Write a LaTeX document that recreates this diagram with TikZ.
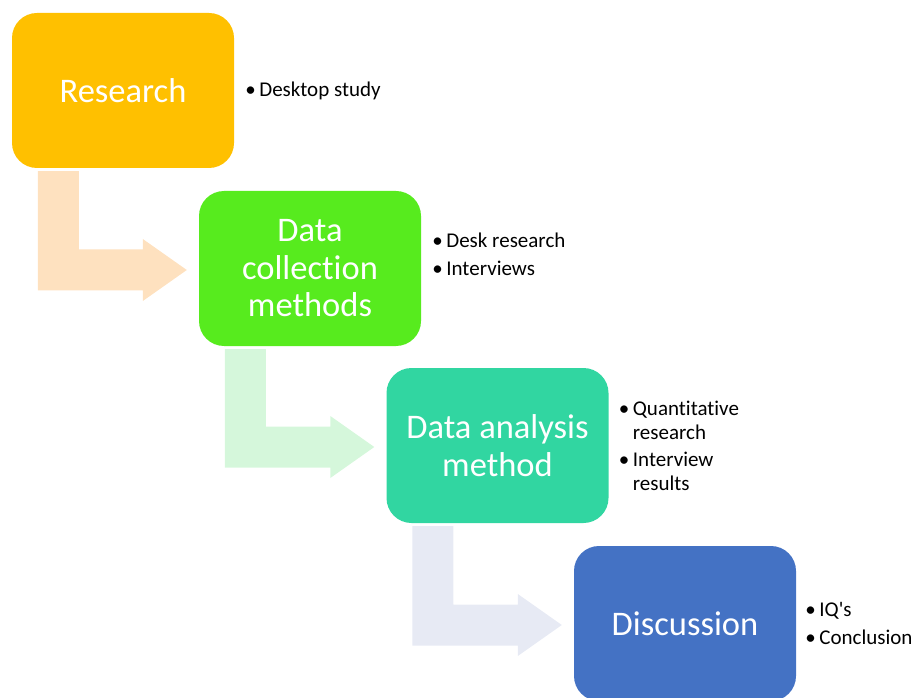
\documentclass[tikz,border=0pt]{standalone}
\usepackage{fontspec}
\setmainfont[Ligatures=NoCommon]{Carlito}
\usetikzlibrary{calc}
\definecolor{stageA}{HTML}{FFC000}
\definecolor{stageB}{HTML}{57EB1E}
\definecolor{stageC}{HTML}{31D6A1}
\definecolor{stageD}{HTML}{4472C4}
\definecolor{flowA}{HTML}{FEE1BF}
\definecolor{flowB}{HTML}{D5F7DB}
\definecolor{flowC}{HTML}{E7EAF4}
\begin{document}
\begin{tikzpicture}[
  x=1pt, y=1pt,
  stage/.style={rectangle, rounded corners=25pt, minimum width=222pt,
                minimum height=155pt, inner sep=0pt, text=white,
                align=center, font=\fontsize{34.5}{37.5}\selectfont},
  notes/.style={anchor=west, align=left, inner sep=0pt,
                font=\fontsize{21}{24}\selectfont}
]
\useasboundingbox (0,0) rectangle (915,697);
\clip (0,0) rectangle (915,697);
\node[stage, fill=stageA] (research)   at (123,606.5) {Research};
\node[stage, fill=stageB] (collection) at (310,428.5) {Data\\collection\\methods};
\node[stage, fill=stageC] (analysis)   at (497.5,251.5) {Data analysis\\method};
\node[stage, fill=stageD] (discussion) at (685,73.5) {Discussion};
% bullet lists
\node[notes] (researchnotes) at ($(research.east)+(11,0)$)
  {\textbullet\,Desktop study};
\node[notes] (collectionnotes) at ($(collection.east)+(11,14.5)$)
  {\textbullet\,Desk research\\[4pt]\textbullet\,Interviews};
\node[notes] (analysisnotes) at ($(analysis.east)+(10,0)$)
  {\textbullet\,Quantitative\\\phantom{\textbullet\,}research\\[3pt]%
   \textbullet\,Interview\\\phantom{\textbullet\,}results};
\node[notes] (discussionnotes) at ($(discussion.east)+(9,0)$)
  {\textbullet\,IQ\textquotesingle s\\[4pt]\textbullet\,Conclusion};
% bent arrows
\foreach \from/\to/\shade in {research/collection/flowA,
    collection/analysis/flowB, analysis/discussion/flowC}
  \fill[\shade] let \p1=($(\from.south west)+(26,-3)$),
                    \p2=($(\to.west)+(-12,-1.5)$) in
    (\x1,\y1) -- (\x1+41pt,\y1) -- (\x1+41pt,\y2+20.5pt)
    -- (\x2-44pt,\y2+20.5pt) -- (\x2-44pt,\y2+31pt) -- (\p2)
    -- (\x2-44pt,\y2-31pt) -- (\x2-44pt,\y2-20.5pt)
    -- (\x1,\y2-20.5pt) -- cycle;
\end{tikzpicture}
\end{document}
